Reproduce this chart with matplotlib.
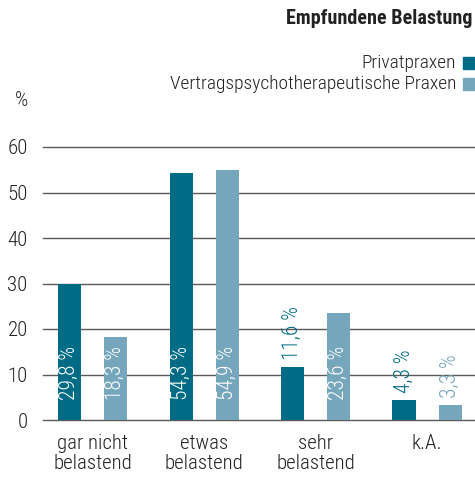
import matplotlib
matplotlib.use("Agg")
import matplotlib.pyplot as plt
import numpy as np

plt.rcParams['font.family'] = ["Roboto Condensed", "DejaVu Sans"]
plt.rcParams['font.weight'] = 300

categories = ["gar nicht\nbelastend", "etwas\nbelastend", "sehr\nbelastend", "k.A."]
series_names = ["Privatpraxen", "Vertragspsychotherapeutische Praxen"]
privat = [29.8, 54.3, 11.6, 4.3]
vertrag = [18.3, 54.9, 23.6, 3.3]
yticks = [0, 10, 20, 30, 40, 50, 60]
title = "Empfundene Belastung"

c_dark = "#006b85"
c_light = "#75a6bb"
txt = "#222222"

fig = plt.figure(figsize=(4.75, 4.84), dpi=100)
ax = fig.add_axes([43/475, 1-420/484, 1-43/475, (420-147)/484])

x = np.arange(len(categories))
w = 0.207
off = 0.207
b1 = ax.bar(x - off, privat, w, color=c_dark, zorder=3)
b2 = ax.bar(x + off, vertrag, w, color=c_light, zorder=3)

def fmt(v):
    return f"{v:.1f}".replace(".", ",") + " %"

for bars, vals, col in [(b1, privat, c_dark), (b2, vertrag, c_light)]:
    for rect, v in zip(bars, vals):
        cx = rect.get_x() + rect.get_width() / 2
        if v > 15:
            ax.text(cx, 4.4, fmt(v), rotation=90, ha="center", va="bottom",
                    color="white", fontsize=15.5, zorder=4)
        else:
            ax.annotate(fmt(v), (cx, v), xytext=(0, 5), textcoords="offset points",
                        rotation=90, ha="center", va="bottom", color=col,
                        fontsize=15.5, zorder=4)

ax.set_xlim(-0.446, 3.43)
ax.set_ylim(0, 60)
ax.set_yticks(yticks)
ax.set_yticklabels([str(t) for t in yticks], fontsize=15, color=txt)
ax.set_xticks(x)
ax.set_xticklabels(categories, fontsize=15, color=txt, linespacing=1.1)
ax.tick_params(axis="y", length=0, pad=11)
ax.tick_params(axis="x", length=0, pad=10)
for s in ax.spines.values():
    s.set_visible(False)
for t in yticks:
    ax.axhline(t, color="#5a5a5a", lw=1.0, zorder=2, clip_on=False)

fig.text(472/475, 1-18/484, title, ha="right", va="center", fontsize=14.5,
         fontweight="bold", color="#222222")
# legend
for i, (name, col) in enumerate(zip(series_names, [c_dark, c_light])):
    yc = 1 - (63 + 21*i)/484
    fig.text(456/475, yc, name, ha="right", va="center", fontsize=14, color=txt)
    fig.patches.append(plt.Rectangle((463/475, yc - 6/484), 12/475, 12/484,
                                     transform=fig.transFigure, color=col, figure=fig))
fig.text(22/475, 1-101/484, "%", ha="center", va="center", fontsize=15, color=txt)

fig.savefig("out.png", dpi=100)
